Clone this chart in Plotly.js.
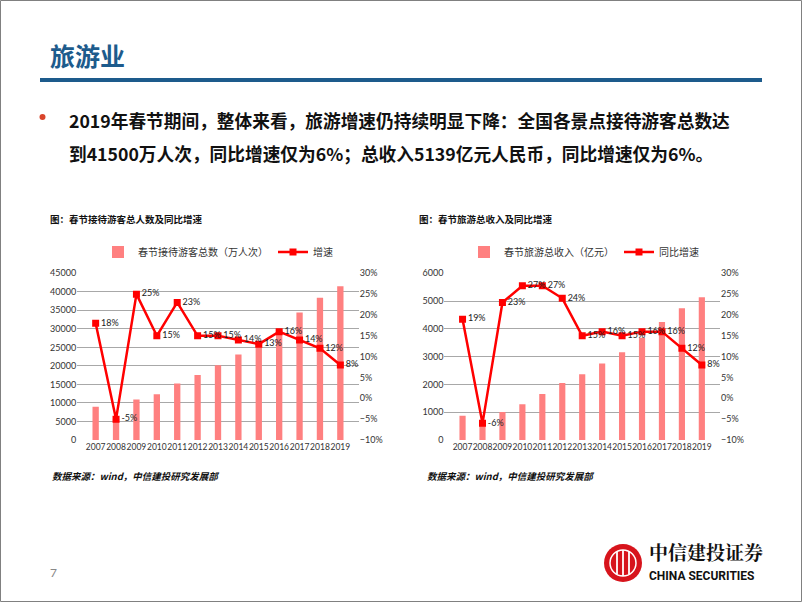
<!DOCTYPE html>
<html>
<head>
<meta charset="utf-8">
<script src="https://cdn.plot.ly/plotly-3.0.1.min.js"></script>
<style>
html,body{margin:0;padding:0;background:#fff;}
#chart{width:802px;height:602px;}
</style>
</head>
<body>
<div id="chart"></div>
<script>
// ---- data ----
const years = ['2007','2008','2009','2010','2011','2012','2013','2014','2015','2016','2017','2018','2019'];
const visitors = [9000, 5700, 10900, 12350, 15250, 17550, 20150, 23100, 26300, 29500, 34400, 38400, 41500];
const visitorGrowth = [18, -5, 25, 15, 23, 15, 15, 14, 13, 16, 14, 12, 8];
const revenue = [870, 600, 1010, 1290, 1660, 2050, 2370, 2750, 3160, 3680, 4250, 4740, 5139];
const revenueGrowth = [19, -6, 23, 27, 27, 24, 15, 16, 15, 16, 16, 12, 8];

const leftBarName = '春节接待游客总数（万人次）';
const leftLineName = '增速';
const rightBarName = '春节旅游总收入（亿元）';
const rightLineName = '同比增速';

// ---- styles ----
const W = 802, H = 602;
const px = x => x / W;
const py = y => 1 - y / H;
const BAR = '#ff8080';
const LINE = '#ff0000';
const CJK = '"Noto Sans CJK SC", "Noto Sans", sans-serif';
const NUM = 'Lato, "Open Sans", sans-serif';
const BLUE = '#1d5b8c';

const traces = [
  {type:'bar', x:years, y:visitors, name:leftBarName, marker:{color:BAR}, xaxis:'x', yaxis:'y', legend:'legend'},
  {type:'scatter', mode:'lines+markers+text', x:years, y:visitorGrowth, name:leftLineName,
   line:{color:LINE, width:2.5}, marker:{symbol:'square', size:7, color:LINE},
   text: visitorGrowth.map(v => v + '%'), textposition:'middle right',
   textfont:{family:NUM, size:9, color:'#222'}, xaxis:'x', yaxis:'y2', legend:'legend'},
  {type:'bar', x:years, y:revenue, name:rightBarName, marker:{color:BAR}, xaxis:'x2', yaxis:'y3', legend:'legend2'},
  {type:'scatter', mode:'lines+markers+text', x:years, y:revenueGrowth, name:rightLineName,
   line:{color:LINE, width:2.5}, marker:{symbol:'square', size:7, color:LINE},
   text: revenueGrowth.map(v => v + '%'), textposition:'middle right',
   textfont:{family:NUM, size:9, color:'#222'}, xaxis:'x2', yaxis:'y4', legend:'legend2'}
];

const tickf = {family:NUM, size:9, color:'#333'};
const xtickf = {family:NUM, size:8.5, color:'#333'};
const xCommon = {type:'category', showgrid:false, showline:false, zeroline:false, ticks:'', tickangle:0, tickfont:xtickf, fixedrange:true};
const yDom = [py(440), py(273.3)];

const layout = {
  width:W, height:H, margin:{l:0,r:0,t:0,b:0},
  paper_bgcolor:'#fff', plot_bgcolor:'rgba(0,0,0,0)',
  bargap:0.69, showlegend:true,
  font:{family:CJK},
  xaxis: Object.assign({}, xCommon, {domain:[px(77.2), px(358.8)], anchor:'y'}),
  yaxis: {domain:yDom, anchor:'x', range:[0,45000], dtick:5000, tickformat:'d', tickfont:tickf, showgrid:true, gridcolor:'#a8a8a8', gridwidth:1, zeroline:false, showline:false, ticks:'', fixedrange:true},
  yaxis2: {overlaying:'y', side:'right', anchor:'x', range:[-10,30], dtick:5, ticksuffix:'%', tickfont:tickf, showgrid:false, zeroline:false, showline:false, ticks:'', fixedrange:true},
  xaxis2: Object.assign({}, xCommon, {domain:[px(444.4), px(720)], anchor:'y3'}),
  yaxis3: {domain:yDom, anchor:'x2', range:[0,6000], dtick:1000, tickformat:'d', tickfont:tickf, showgrid:true, gridcolor:'#a8a8a8', gridwidth:1, zeroline:false, showline:false, ticks:'', fixedrange:true},
  yaxis4: {overlaying:'y3', side:'right', anchor:'x2', range:[-10,30], dtick:5, ticksuffix:'%', tickfont:tickf, showgrid:false, zeroline:false, showline:false, ticks:'', fixedrange:true},
  legend: {orientation:'h', x:px(218), xanchor:'center', y:py(252), yanchor:'middle', font:{family:CJK, size:10, color:'#333'}, bgcolor:'rgba(0,0,0,0)'},
  legend2: {orientation:'h', x:px(584), xanchor:'center', y:py(252), yanchor:'middle', font:{family:CJK, size:10, color:'#333'}, bgcolor:'rgba(0,0,0,0)'},
  shapes: [
    {type:'rect', xref:'paper', yref:'paper', x0:px(0.5), x1:px(801.5), y0:py(601.5), y1:py(0.5), line:{color:'#808080', width:1}},
    {type:'line', xref:'paper', yref:'paper', x0:px(40), x1:px(762), y0:py(80), y1:py(80), line:{color:BLUE, width:4}},
    {type:'circle', xref:'paper', yref:'paper', x0:px(39.5), x1:px(45.5), y0:py(120), y1:py(114), fillcolor:'#d9442b', line:{width:0}},
    // logo
    {type:'circle', xref:'paper', yref:'paper', x0:px(604), x1:px(642), y0:py(582), y1:py(544), fillcolor:'#d7141c', line:{width:0}},
    {type:'circle', xref:'paper', yref:'paper', x0:px(610), x1:px(636), y0:py(576), y1:py(550), fillcolor:'rgba(0,0,0,0)', line:{color:'#fff', width:1.5}},
    {type:'line', xref:'paper', yref:'paper', x0:px(617), x1:px(617), y0:py(574), y1:py(552), line:{color:'#fff', width:1.8}},
    {type:'line', xref:'paper', yref:'paper', x0:px(623), x1:px(623), y0:py(576), y1:py(550), line:{color:'#fff', width:1.8}},
    {type:'line', xref:'paper', yref:'paper', x0:px(629), x1:px(629), y0:py(574), y1:py(552), line:{color:'#fff', width:1.8}}
  ],
  annotations: [
    {text:'<b>旅游业</b>', xref:'paper', yref:'paper', x:px(48), y:py(55), xanchor:'left', yanchor:'middle', showarrow:false, font:{family:CJK, size:25, color:BLUE}},
    {text:'<b>2019年春节期间，整体来看，旅游增速仍持续明显下降：全国各景点接待游客总数达</b>', xref:'paper', yref:'paper', x:px(67), y:py(120), xanchor:'left', yanchor:'middle', showarrow:false, font:{family:CJK, size:17.7, color:'#111'}},
    {text:'<b>到41500万人次，同比增速仅为6%；总收入5139亿元人民币，同比增速仅为6%。</b>', xref:'paper', yref:'paper', x:px(67), y:py(153), xanchor:'left', yanchor:'middle', showarrow:false, font:{family:CJK, size:17.7, color:'#111'}},
    {text:'<b>图：春节接待游客总人数及同比增速</b>', xref:'paper', yref:'paper', x:px(48), y:py(219), xanchor:'left', yanchor:'middle', showarrow:false, font:{family:CJK, size:9.5, color:'#111'}},
    {text:'<b>图：春节旅游总收入及同比增速</b>', xref:'paper', yref:'paper', x:px(417), y:py(219), xanchor:'left', yanchor:'middle', showarrow:false, font:{family:CJK, size:9.5, color:'#111'}},
    {text:'<b><i>数据来源：wind，中信建投研究发展部</i></b>', xref:'paper', yref:'paper', x:px(50), y:py(476), xanchor:'left', yanchor:'middle', showarrow:false, font:{family:CJK, size:9.5, color:'#111'}},
    {text:'<b><i>数据来源：wind，中信建投研究发展部</i></b>', xref:'paper', yref:'paper', x:px(425), y:py(476), xanchor:'left', yanchor:'middle', showarrow:false, font:{family:CJK, size:9.5, color:'#111'}},
    {text:'7', xref:'paper', yref:'paper', x:px(48), y:py(572), xanchor:'left', yanchor:'middle', showarrow:false, font:{family:NUM, size:12, color:'#888'}},
    {text:'<b>中信建投证券</b>', xref:'paper', yref:'paper', x:px(647), y:py(551), xanchor:'left', yanchor:'middle', showarrow:false, font:{family:'"Noto Serif CJK SC", "Noto Sans CJK SC", serif', size:19, color:'#111'}},
    {text:'<b>CHINA SECURITIES</b>', xref:'paper', yref:'paper', x:px(647), y:py(576), xanchor:'left', yanchor:'middle', showarrow:false, font:{family:'"Liberation Sans Narrow", "Roboto", sans-serif', size:12, color:'#111'}}
  ]
};

Plotly.newPlot('chart', traces, layout, {staticPlot:true, displayModeBar:false});
</script>
</body>
</html>
